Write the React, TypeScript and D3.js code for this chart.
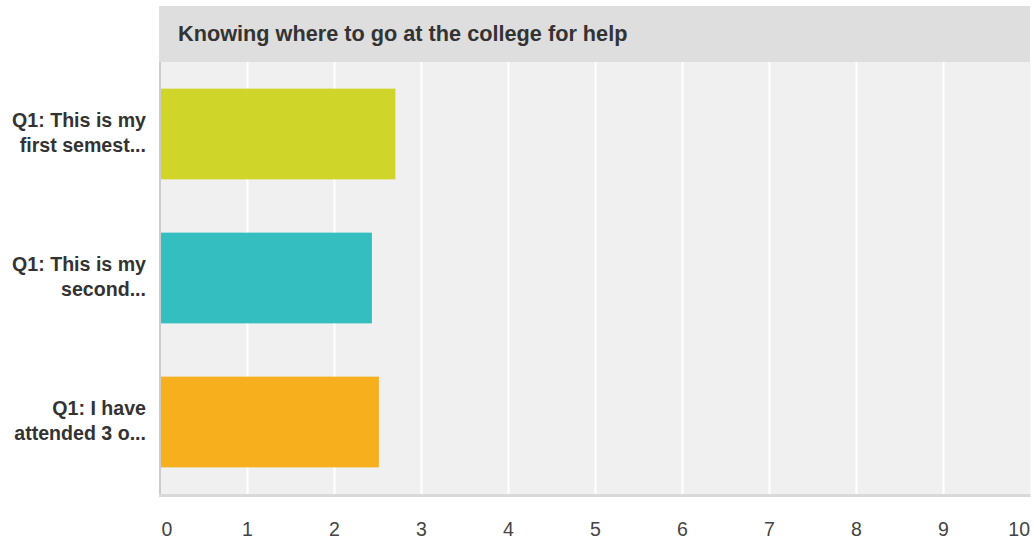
import React from "react";
import * as d3 from "d3";

const categories: string[][] = [
  ["Q1: This is my", "first semest..."],
  ["Q1: This is my", "second..."],
  ["Q1: I have", "attended 3 o..."],
];
const values: number[] = [2.7, 2.43, 2.51];
const colors: string[] = ["#d0d52a", "#34bec0", "#f7af1e"];
const ticks: number[] = [0, 1, 2, 3, 4, 5, 6, 7, 8, 9, 10];
const title = "Knowing where to go at the college for help";

export default function App() {
  const W = 1034, H = 541;
  const left = 160.5, right = 1030.5, top = 62, bottom = 494;
  const x = d3.scaleLinear().domain([0, 10]).range([left, right]);
  const y = d3
    .scaleBand<number>()
    .domain(values.map((_, i) => i))
    .range([top, bottom])
    .paddingInner(0.37)
    .paddingOuter(0.185);
  const font = "Arial, 'Liberation Sans', Helvetica, sans-serif";
  return (
    <svg width={W} height={H} style={{ position: "absolute", left: 0, top: 0 }} fontFamily={font}>
      <rect x={159} y={6} width={1030 - 159} height={56} fill="#dedede" />
      <text x={178} y={40.5} fontSize={21.7} fontWeight="bold" fill="#333">
        {title}
      </text>
      <rect x={left} y={top} width={right - left} height={bottom - top} fill="#f0f0f0" />
      {ticks.slice(1, -1).map((t) => (
        <line key={t} x1={x(t)} x2={x(t)} y1={top} y2={bottom} stroke="#ffffff" strokeWidth={2} />
      ))}
      {values.map((v, i) => (
        <rect
          key={i}
          x={x(0)}
          y={y(i)!}
          width={x(v) - x(0)}
          height={y.bandwidth()}
          fill={colors[i]}
        />
      ))}
      <line x1={160} x2={160} y1={top} y2={bottom + 2} stroke="#cccccc" strokeWidth={2} />
      <line x1={159} x2={right} y1={bottom + 1.5} y2={bottom + 1.5} stroke="#d9d9d9" strokeWidth={3} />
      {categories.map((lines, i) => {
        const c = y(i)! + y.bandwidth() / 2;
        return (
          <text key={i} textAnchor="end" fontSize={19.6} fontWeight="bold" fill="#333">
            <tspan x={146} y={c - 7.5}>{lines[0]}</tspan>
            <tspan x={146} y={c + 17.5}>{lines[1]}</tspan>
          </text>
        );
      })}
      {ticks.map((t, i) => (
        <text
          key={t}
          x={i === 0 ? 161.5 : i === ticks.length - 1 ? 1030 : x(t)}
          y={535.5}
          fontSize={19.5}
          fill="#444"
          textAnchor={i === 0 ? "start" : i === ticks.length - 1 ? "end" : "middle"}
        >
          {t}
        </text>
      ))}
    </svg>
  );
}
